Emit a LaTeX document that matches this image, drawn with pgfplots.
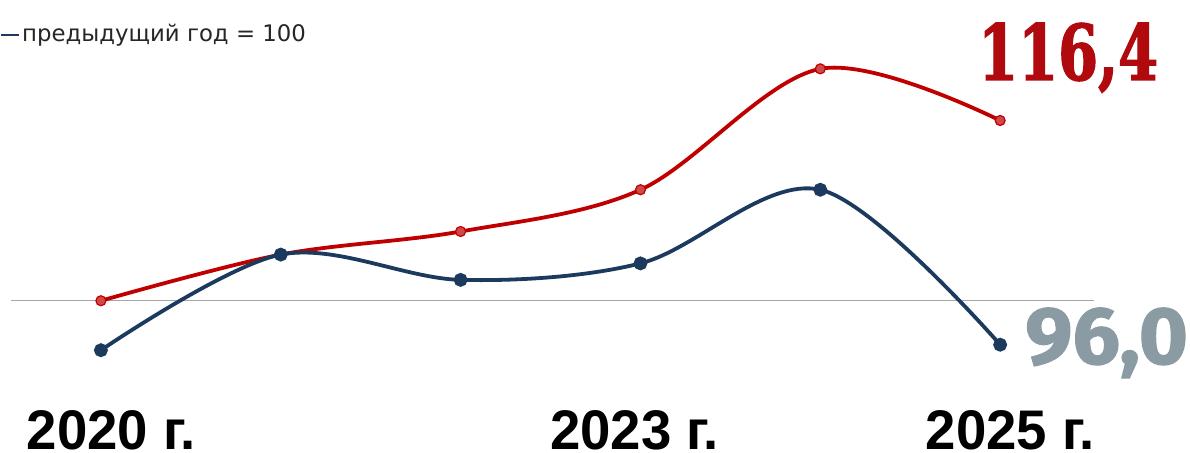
\documentclass[border=0pt]{standalone}
\usepackage{pgfplots}
\pgfplotsset{compat=1.18}
\usepackage{fontspec}
\setmainfont{Liberation Sans}
\newfontfamily\legfont{DejaVu Sans}
\newfontfamily\slabfont[FakeBold=2]{DejaVu Serif}
\newfontfamily\dinfont[FakeBold=1.5]{Fira Sans}
\definecolor{redline}{HTML}{C00000}
\definecolor{redmark}{HTML}{D04848}
\definecolor{blueline}{HTML}{1C3A5E}
\definecolor{greynum}{HTML}{8A9BA4}
\definecolor{bigred}{HTML}{B00A0E}
\newcommand{\yearlabel}[1]{\resizebox{169pt}{39pt}{\bfseries #1}}
\begin{document}
\begin{tikzpicture}
\begin{axis}[
  scale only axis,
  width=1190pt, height=453pt,
  xmin=2019.4444, xmax=2026.0556,
  ymin=86.182, ymax=127.364,
  axis lines=none, ticks=none,
  clip=false,
]
% keep the whole frame as the picture's bounding box
\path (rel axis cs:0,0) rectangle (rel axis cs:1,1);
% reference line: previous year = 100
\addplot[gray!70, line width=1pt] coordinates {(2019.5,100) (2025.52,100)};
% red series
\addplot[redline, line width=3.8pt, smooth, tension=0.55,
  mark=*, mark size=5pt, mark options={fill=redmark, draw=redline, line width=1.2pt}]
  coordinates {
    (2020,100.0)
    (2021,104.2)
    (2022,106.3)
    (2023,110.1)
    (2024,121.1)
    (2025,116.4)
  };
% blue series
\addplot[blueline, line width=3.8pt, smooth, tension=0.55,
  mark=*, mark size=5pt, mark options={fill=blueline, draw=blueline}]
  coordinates {
    (2020,95.5)
    (2021,104.2)
    (2022,101.9)
    (2023,103.4)
    (2024,110.1)
    (2025,96.0)
  };
% legend fragment
\draw[blueline, line width=2pt] (axis cs:2019.4444,124.18) -- (axis cs:2019.544,124.18);
\node[anchor=base west, inner sep=0pt, text=black!85] at (axis cs:2019.561,123.545)
  {\resizebox{284pt}{!}{\legfont предыдущий год = 100}};
% value labels
\node[anchor=base, inner sep=0pt, text=bigred] at (axis cs:2025.378,120.09)
  {\resizebox{180pt}{57pt}{\slabfont\bfseries 116,4}};
\node[anchor=base, inner sep=0pt, text=greynum] at (axis cs:2025.592,94.27)
  {\resizebox{163pt}{56pt}{\dinfont\bfseries 96,0}};
% year labels
\node[anchor=base, inner sep=0pt] at (axis cs:2020.058,86.45) {\yearlabel{2020 г.}};
\node[anchor=base, inner sep=0pt] at (axis cs:2022.967,86.45) {\yearlabel{2023 г.}};
\node[anchor=base, inner sep=0pt] at (axis cs:2025.056,86.45) {\yearlabel{2025 г.}};
\end{axis}
\end{tikzpicture}
\end{document}
